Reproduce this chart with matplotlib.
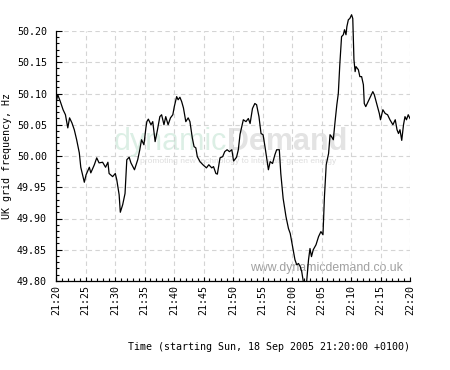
import matplotlib
matplotlib.use('Agg')
import matplotlib.pyplot as plt
import matplotlib.ticker as mticker
from matplotlib.patches import Rectangle
import numpy as np

# minutes after 21:20, and grid frequency (Hz)
minutes = [0.0, 0.3, 0.7, 1.2, 1.6, 2.0, 2.3, 2.7, 3.1, 3.5, 3.95, 4.2, 4.8, 5.1, 5.65, 5.9,
           6.5, 6.9, 7.3, 7.9, 8.4, 8.8, 9.0, 9.6, 10.05, 10.3, 10.7, 10.9, 11.3, 11.7, 12.0,
           12.4, 12.7, 13.3, 13.85, 14.2, 14.5, 14.9, 15.25, 15.4, 15.65, 16.1, 16.4, 16.8,
           17.2, 17.6, 17.9, 18.3, 18.6, 19.0, 19.4, 19.8, 20.05, 20.45, 20.7, 21.0, 21.3,
           21.6, 22.0, 22.4, 22.7, 23.1, 23.4, 23.7, 23.95, 24.4, 24.9, 25.25, 25.5, 25.9,
           26.4, 26.7, 27.1, 27.35, 27.8, 28.25, 28.6, 29.0, 29.4, 29.8, 30.1, 30.6, 30.9,
           31.2, 31.75, 32.2, 32.6, 32.9, 33.3, 33.7, 34.0, 34.4, 34.75, 35.1, 35.5, 36.0,
           36.3, 36.7, 37.1, 37.4, 37.85, 38.1, 38.5, 38.98, 39.4, 39.7, 40.1, 40.5, 40.8,
           41.1, 41.4, 41.65, 41.9, 42.4, 42.8, 43.05, 43.3, 43.6, 44.07, 44.5, 44.9, 45.25,
           45.5, 45.8, 46.2, 46.45, 46.7, 47.0, 47.3, 47.6, 47.85, 48.1, 48.4, 48.7, 48.9,
           49.15, 49.3, 49.55, 49.8, 50.1, 50.3, 50.5, 50.7, 50.85, 51.25, 51.5, 51.8, 52.1,
           52.25, 52.5, 52.9, 53.3, 53.7, 53.95, 54.35, 54.8, 55.0, 55.4, 55.8, 56.2, 56.6,
           57.1, 57.5, 57.8, 58.05, 58.3, 58.6, 58.9, 59.15, 59.4, 59.7, 60.0]
freq = [50.085, 50.098, 50.088, 50.074, 50.066, 50.045, 50.061, 50.053, 50.042, 50.026,
        50.005, 49.982, 49.958, 49.970, 49.982, 49.973, 49.986, 49.997, 49.989, 49.990,
        49.982, 49.990, 49.972, 49.967, 49.972, 49.962, 49.938, 49.910, 49.922, 49.940,
        49.994, 49.998, 49.989, 49.978, 49.994, 50.010, 50.026, 50.018, 50.046, 50.055,
        50.059, 50.050, 50.055, 50.023, 50.042, 50.063, 50.066, 50.050, 50.063, 50.050,
        50.061, 50.066, 50.079, 50.095, 50.090, 50.094, 50.087, 50.077, 50.055, 50.061,
        50.055, 50.029, 50.015, 50.013, 49.999, 49.991, 49.986, 49.983, 49.981, 49.986,
        49.981, 49.983, 49.972, 49.971, 49.997, 49.999, 50.007, 50.010, 50.007, 50.010,
        49.992, 49.998, 50.010, 50.035, 50.058, 50.055, 50.060, 50.052, 50.076, 50.084,
        50.082, 50.063, 50.036, 50.034, 50.010, 49.978, 49.991, 49.988, 50.002, 50.010,
        50.010, 49.972, 49.932, 49.903, 49.884, 49.876, 49.855, 49.834, 49.826, 49.828,
        49.823, 49.815, 49.800, 49.790, 49.834, 49.852, 49.839, 49.850, 49.858, 49.871,
        49.879, 49.874, 49.935, 49.986, 50.004, 50.034, 50.031, 50.026, 50.055, 50.082,
        50.100, 50.146, 50.191, 50.194, 50.202, 50.194, 50.207, 50.218, 50.220, 50.226,
        50.220, 50.154, 50.135, 50.143, 50.138, 50.127, 50.127, 50.114, 50.084, 50.079,
        50.087, 50.095, 50.103, 50.098, 50.084, 50.068, 50.058, 50.074, 50.068, 50.066,
        50.058, 50.050, 50.058, 50.042, 50.036, 50.042, 50.025, 50.050, 50.063, 50.058,
        50.066, 50.060]

tick_minutes = [0, 5, 10, 15, 20, 25, 30, 35, 40, 45, 50, 55, 60]
tick_labels = ['21:20', '21:25', '21:30', '21:35', '21:40', '21:45', '21:50',
               '21:55', '22:00', '22:05', '22:10', '22:15', '22:20']
y_ticks = [49.80, 49.85, 49.90, 49.95, 50.00, 50.05, 50.10, 50.15, 50.20]

mono = 'DejaVu Sans Mono'
fs = 7.2

fig = plt.figure(figsize=(4.5, 3.7), dpi=100)
ax = fig.add_axes([56 / 450, 89 / 370, 354 / 450, 250 / 370])

# watermark
ax.text(0.483, 0.524, 'dynamic', transform=ax.transAxes, fontsize=22,
        family='Liberation Sans', color='#dcefe5', ha='right', va='baseline', zorder=0)
ax.text(0.483, 0.524, 'Demand', transform=ax.transAxes, fontsize=22, fontweight='bold',
        family='Liberation Sans', color='#e3e3e3', ha='left', va='baseline', zorder=0)
ax.text(0.238, 0.472, 'promoting new technology to integrate green energy',
        transform=ax.transAxes, fontsize=6, family='Liberation Sans',
        color='#dedede', ha='left', va='baseline', zorder=0)
ax.text(0.98, 0.05, 'www.dynamicdemand.co.uk', transform=ax.transAxes, fontsize=8.8,
        family='Liberation Sans', color='#a0a0a0', ha='right', va='center', zorder=1)

line, = ax.plot(minutes, freq, color='black', linewidth=0.9, zorder=3)
# the peak runs above the top of the frame, the dip is cut at the bottom
line.set_clip_path(Rectangle((0, 0), 1, 1.2, transform=ax.transAxes))

ax.set_xlim(0, 60)
ax.set_ylim(49.80, 50.20)
ax.set_xticks(tick_minutes)
ax.set_xticklabels(tick_labels, rotation=90, family=mono, fontsize=fs)
ax.set_yticks(y_ticks)
ax.set_yticklabels(['%.2f' % v for v in y_ticks], family=mono, fontsize=fs)
ax.xaxis.set_minor_locator(mticker.MultipleLocator(1))
ax.yaxis.set_minor_locator(mticker.MultipleLocator(0.01))
ax.tick_params(which='both', direction='in', color='black', width=0.8)
ax.tick_params(axis='y', which='major', length=4.5, pad=6.5)
ax.tick_params(axis='y', which='minor', length=2.5)
ax.tick_params(axis='x', which='major', length=3, pad=3)
ax.tick_params(axis='x', which='minor', length=2.5)
ax.tick_params(top=False, right=False)

ax.grid(True, which='major', color='#d4d4d4', linestyle=(0, (4, 3)), linewidth=0.8, zorder=1)
ax.set_axisbelow(False)
for s in ['top', 'right']:
    ax.spines[s].set_visible(False)
for s in ['left', 'bottom']:
    ax.spines[s].set_linewidth(0.9)
    ax.spines[s].set_zorder(4)

ax.set_ylabel('UK grid frequency, Hz', family=mono, fontsize=fs)
ax.yaxis.set_label_coords(-0.124, 0.5)
ax.set_xlabel('Time (starting Sun, 18 Sep 2005 21:20:00 +0100)', family=mono,
              fontsize=fs, loc='right')
ax.xaxis.set_label_coords(1.0, -0.244)

fig.savefig('out.png', dpi=100)
